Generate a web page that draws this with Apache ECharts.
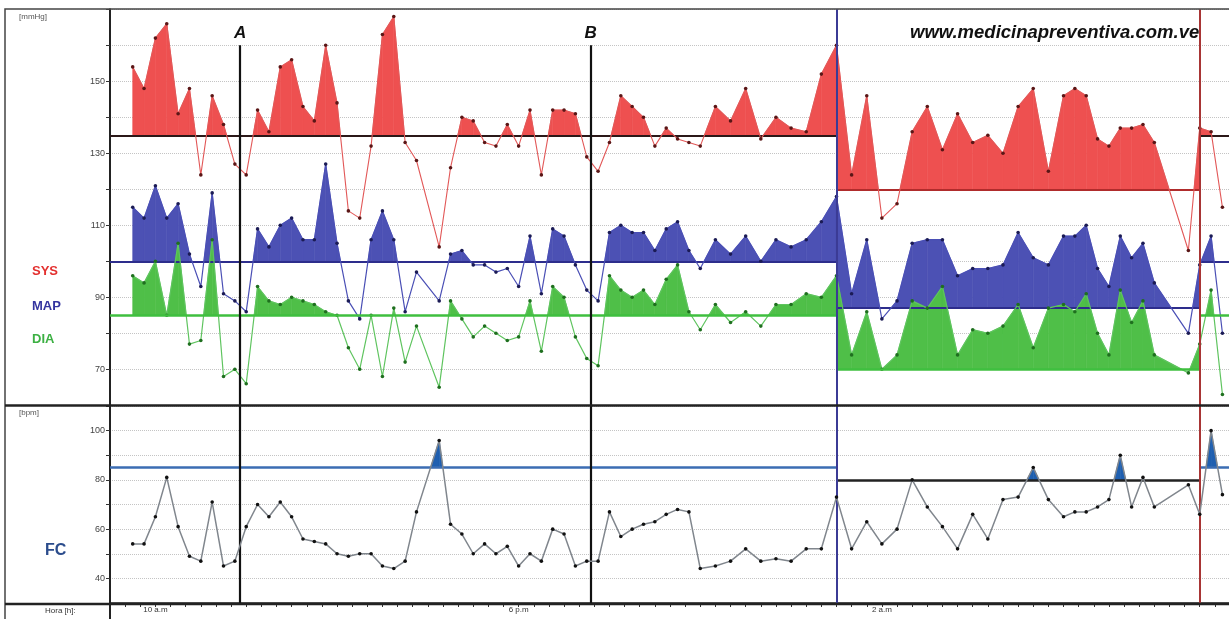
<!DOCTYPE html>
<html><head><meta charset="utf-8">
<script src="https://cdn.jsdelivr.net/npm/echarts@6/dist/echarts.min.js"></script>
<style>html,body{margin:0;padding:0;background:#fff}#c{width:1229px;height:619px}</style>
</head><body><div id="c"></div>
<script>
// ---- data (times after midnight written as 24:00+ hours) ----
const times = ['9:30','9:45','10:00','10:15','10:30','10:45','11:00','11:15','11:30','11:45',
 '12:00','12:15','12:30','12:45','13:00','13:15','13:30','13:45','14:00','14:15',
 '14:30','14:45','15:00','15:15','15:30','15:45',
 '16:15','16:30','16:45','17:00','17:15','17:30','17:45','18:00','18:15','18:30',
 '18:45','19:00','19:15','19:30','19:45','20:00','20:15','20:30','20:45','21:00',
 '21:15','21:30','21:45','22:00',
 '22:20','22:40','23:00','23:20','23:40','24:00','24:20','24:40',
 '25:00','25:20','25:40','26:00','26:20','26:40','27:00','27:20','27:40','28:00','28:20','28:40','29:00','29:20','29:40',
 '30:00','30:15','30:30','30:45','31:00','31:15','31:30','31:45','32:00',
 '32:45','33:00','33:15','33:30'];
const sys = [154,148,162,166,141,148,124,146,138,127, 124,142,136,154,156,143,139,160,144,114,
 112,132,163,168,133,128, 104,126,140,139,133,132,138,132,142,124, 142,142,141,129,125,133,146,143,140,132,
 137,134,133,132,
 143,139,148,134,140,137,136,152,
 160,124,146,112,116,136,143,131,141,133,135,130,143,148,125,
 146,148,146,134,132,137,137,138,133,
 103,137,136,115];
const map = [115,112,121,112,116,102,93,119,91,89, 86,109,104,110,112,106,106,127,105,89,
 84,106,114,106,86,97, 89,102,103,99,99,97,98,93,107,91, 109,107,99,92,89,108,110,108,108,103,
 109,111,103,98,
 106,102,107,100,106,104,106,111,
 118,91,106,84,89,105,106,106,96,98,98,99,108,101,99,
 107,107,110,98,93,107,101,105,94,
 80,99,107,80];
const dia = [96,94,100,85,105,77,78,106,68,70, 66,93,89,88,90,89,88,86,85,76,
 70,85,68,87,72,82, 65,89,84,79,82,80,78,79,89,75, 93,90,79,73,71,96,92,90,92,88,
 95,99,86,81,
 88,83,86,82,88,88,91,90,
 96,74,86,70,74,89,87,93,74,81,80,82,88,76,87,
 88,86,91,80,74,92,83,89,74,
 69,77,92,63];
const fc = [54,54,65,81,61,49,47,71,45,47, 61,70,65,71,65,56,55,54,50,49,
 50,50,45,44,47,67, 96,62,58,50,54,50,53,45,50,47, 60,58,45,47,47,67,57,60,62,63,
 66,68,67,44,
 45,47,52,47,48,47,52,52,
 73,52,63,54,60,80,69,61,52,66,56,72,73,85,72,
 65,67,67,69,72,90,69,81,69,
 78,66,100,74];
// limits: [day, night, next morning]
const sysLimits = [135,120,135];
const mapLimits = [100,87,100];
const diaLimits = [85,70,85];
const fcLimits = [85,80,85];
const nightBounds = ['25:00','33:00'];      // night start / end
const eventTimes = ['11:52','19:35'];
const eventNames = ['A','B'];
const xExtent = ['9:00','33:40'];
const tickTimes = ['10:00','18:00','26:00'];
const tickTexts = ['10 a.m','6 p.m','2 a.m'];

// ---- helpers ----
const toMin = s => { const [h,m] = s.split(':').map(Number); return h*60+m; };
const T = times.map(toMin);
const nS = toMin(nightBounds[0]), nE = toMin(nightBounds[1]);
const xMin = toMin(xExtent[0]), xMax = toMin(xExtent[1]);
const limitAt = (t, L) => t < nS ? L[0] : (t < nE ? L[1] : L[2]);
const pts = v => T.map((t,i) => [t, v[i]]);
const segs = (v, L) => T.slice(0,-1).map((t,i) => [t, v[i], T[i+1], v[i+1], limitAt(t, L)]);
const FONT = 'Liberation Sans, Arial, sans-serif';

function fillSeries(v, L, color, ax) {
  return {
    type:'custom', xAxisIndex:ax, yAxisIndex:ax, z:2, silent:true, clip:true,
    data: segs(v, L), encode:{x:[0,2], y:[1,3]},
    renderItem: (p, api) => {
      const t1=api.value(0), v1=api.value(1), t2=api.value(2), v2=api.value(3), l=api.value(4);
      let q;
      if (v1>=l && v2>=l) q=[[t1,l],[t1,v1],[t2,v2],[t2,l]];
      else if (v1>=l) { const tc=t1+(v1-l)/(v1-v2)*(t2-t1); q=[[t1,l],[t1,v1],[tc,l]]; }
      else if (v2>=l) { const tc=t1+(l-v1)/(v2-v1)*(t2-t1); q=[[tc,l],[t2,v2],[t2,l]]; }
      else return null;
      return {type:'polygon', shape:{points:q.map(a=>api.coord(a))},
              style:{fill:color, stroke:color, lineWidth:0.6}};
    }
  };
}
function limitLines(L, colors, w) {
  const b = [xMin, nS, nE, xMax];
  return [0,1,2].map(i => [
    {coord:[b[i], L[i]], lineStyle:{color:colors[i], width:w, type:'solid'}},
    {coord:[b[i+1], L[i]]}]);
}
function lineSeries(v, color, dot, ax, L, lc, lw) {
  return {
    type:'line', xAxisIndex:ax, yAxisIndex:ax, z:5, data:pts(v),
    symbol:'circle', symbolSize:3.6, showSymbol:true,
    lineStyle:{color, width:1.2}, itemStyle:{color:dot},
    emphasis:{disabled:true},
    markLine:{silent:true, symbol:['none','none'], label:{show:false}, z:4,
      data: limitLines(L, lc, lw)}
  };
}

const tA = toMin(eventTimes[0]), tB = toMin(eventTimes[1]);
const evLabel = n => ({show:true, position:'start', formatter:n, fontSize:17, fontWeight:'bold',
  fontStyle:'italic', color:'#111', fontFamily:FONT, distance:3});

const series = [
  fillSeries(sys, sysLimits, '#ee5050', 0),
  fillSeries(map, mapLimits, '#4c51b4', 0),
  fillSeries(dia, diaLimits, '#4fbf48', 0),
  lineSeries(sys, '#e25858', '#5a1616', 0, sysLimits, ['#2b1818','#b02c2c','#2b1818'], 2),
  lineSeries(map, '#4a4fb5', '#1b1b55', 0, mapLimits, ['#2d2d8c','#2d2d8c','#2d2d8c'], 2),
  lineSeries(dia, '#5fc45f', '#1f6f1f', 0, diaLimits, ['#3fbf3f','#3fbf3f','#3fbf3f'], 2.5),
  fillSeries(fc, fcLimits, '#1f5fb0', 1),
  lineSeries(fc, '#80868d', '#111', 1, fcLimits, ['#3b6db3','#222','#3b6db3'], 2.5)
];
series[3].lineStyle.width = 1.1;
series[7].lineStyle.width = 1.5;
// event / period vertical lines
series[5].markLine.data.push(
  [{coord:[tA,160], label:evLabel(eventNames[0]), lineStyle:{color:'#111',width:2.2,type:'solid'}}, {coord:[tA,60]}],
  [{coord:[tB,160], label:evLabel(eventNames[1]), lineStyle:{color:'#111',width:2.2,type:'solid'}}, {coord:[tB,60]}],
  [{coord:[nS,170], lineStyle:{color:'#3b3b95',width:2,type:'solid'}}, {coord:[nS,60]}],
  [{coord:[nE,170], lineStyle:{color:'#a83535',width:2,type:'solid'}}, {coord:[nE,60]}]
);
series[5].markLine.z = 8;
series[7].markLine.data.push(
  [{coord:[tA,110], lineStyle:{color:'#111',width:2.2,type:'solid'}}, {coord:[tA,30]}],
  [{coord:[tB,110], lineStyle:{color:'#111',width:2.2,type:'solid'}}, {coord:[tB,30]}],
  [{coord:[nS,110], lineStyle:{color:'#3b3b95',width:2,type:'solid'}}, {coord:[nS,30]}],
  [{coord:[nE,110], lineStyle:{color:'#a83535',width:2,type:'solid'}}, {coord:[nE,30]}]
);

const tickLabel = v => { const i = tickTimes.map(toMin).indexOf(v); return i>=0 ? tickTexts[i] : ''; };
const yAxisBase = {
  type:'value', interval:10,
  axisLine:{show:true, lineStyle:{color:'#222', width:2}},
  axisTick:{show:true, length:4, lineStyle:{color:'#333'}},
  splitLine:{show:true, lineStyle:{type:'dotted', color:'#c4c4c4', width:1}},
};

const option = {
  animation:false,
  textStyle:{fontFamily:FONT},
  grid:[
    {left:110, top:9.3, width:1120, height:396, outerBoundsMode:'none', containLabel:false},
    {left:110, top:406, width:1120, height:197, outerBoundsMode:'none', containLabel:false}
  ],
  xAxis:[
    {type:'value', gridIndex:0, min:xMin, max:xMax, interval:20,
     axisLine:{show:false}, axisTick:{show:false}, axisLabel:{show:false}, splitLine:{show:false}},
    {type:'value', gridIndex:1, min:xMin, max:xMax, interval:20,
     axisLine:{show:true, onZero:false, lineStyle:{color:'#222', width:2.5}},
     axisTick:{show:true, length:4, lineStyle:{color:'#333'}},
     axisLabel:{show:true, formatter:tickLabel, fontSize:8, color:'#333', margin:3, showMinLabel:true, showMaxLabel:true},
     splitLine:{show:false}}
  ],
  yAxis:[
    Object.assign({}, yAxisBase, {gridIndex:0, min:60, max:170,
      axisLabel:{fontSize:9, color:'#444', margin:5,
        formatter:v => (v>=70 && v<=150 && (v-70)%20===0) ? String(v) : ''}}),
    Object.assign({}, yAxisBase, {gridIndex:1, min:30, max:110,
      axisLabel:{fontSize:9, color:'#444', margin:5,
        formatter:v => (v>=40 && v<=100 && v%20===0) ? String(v) : ''}})
  ],
  series,
  graphic:[
    {type:'rect', z:100, silent:true, shape:{x:5, y:9, width:1240, height:640}, style:{fill:'none', stroke:'#444', lineWidth:1.5}},
    {type:'line', z:100, silent:true, shape:{x1:5, y1:405.5, x2:1229, y2:405.5}, style:{stroke:'#222', lineWidth:2.5}},
    {type:'line', z:100, silent:true, shape:{x1:5, y1:604, x2:1229, y2:604}, style:{stroke:'#222', lineWidth:2.5}},
    {type:'line', z:100, silent:true, shape:{x1:110, y1:604, x2:110, y2:619}, style:{stroke:'#222', lineWidth:2}},
    {type:'text', z:100, left:19, top:13, style:{text:'[mmHg]', font:'8px '+FONT, fill:'#555'}},
    {type:'text', z:100, left:32, top:265, style:{text:'SYS', font:'bold 13px '+FONT, fill:'#e3302f'}},
    {type:'text', z:100, left:32, top:300, style:{text:'MAP', font:'bold 13px '+FONT, fill:'#34349f'}},
    {type:'text', z:100, left:32, top:333, style:{text:'DIA', font:'bold 13px '+FONT, fill:'#3cb043'}},
    {type:'text', z:100, left:19, top:409, style:{text:'[bpm]', font:'8px '+FONT, fill:'#555'}},
    {type:'text', z:100, left:45, top:543, style:{text:'FC', font:'bold 16px '+FONT, fill:'#2b4c8c'}},
    {type:'text', z:100, left:45, top:607, style:{text:'Hora [h]:', font:'8px '+FONT, fill:'#333'}},
    {type:'text', z:100, left:910, top:23, style:{text:'www.medicinapreventiva.com.ve', font:'italic bold 18.5px '+FONT, fill:'#111'}}
  ]
};
echarts.init(document.getElementById('c'), null, {renderer:'canvas'}).setOption(option);
</script>
</body></html>
